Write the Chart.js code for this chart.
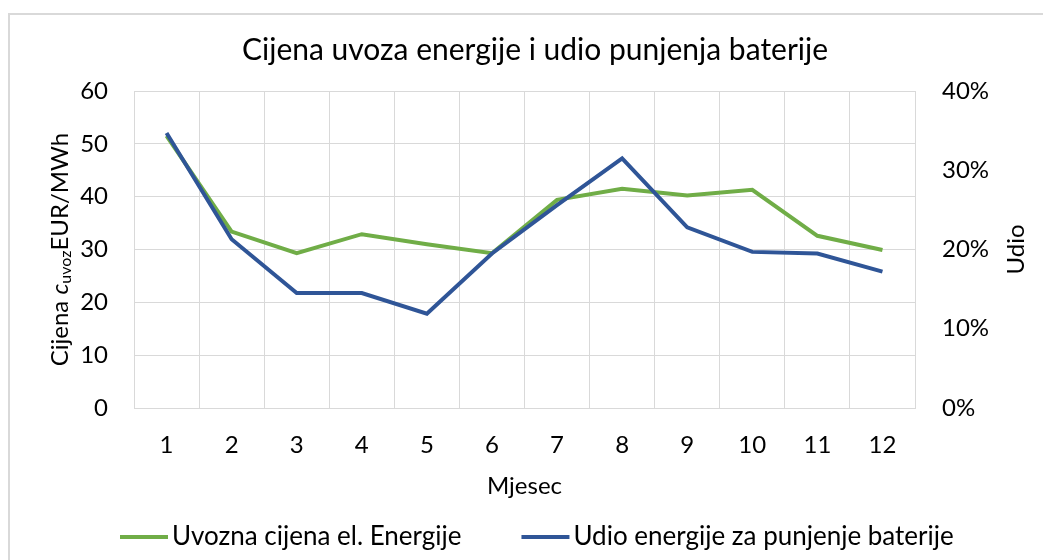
<!DOCTYPE html>
<html>
<head>
<title>Cijena uvoza energije i udio punjenja baterije</title>
<script src="https://cdn.jsdelivr.net/npm/chart.js@4.4.0/dist/chart.umd.min.js"></script>
<style>
	body { margin: 0; background: #fff; }
	#frame { position: absolute; left: 8px; top: 13px; width: 1100px; height: 600px; border-left: 2px solid #d9d9d9; border-top: 2px solid #d9d9d9; }
	#wrap { position: absolute; left: 0; top: 0; width: 1043px; height: 560px; }
</style>
</head>
<body>
<div id="frame"></div>
<div id="wrap"><canvas id="myChart" width="1043" height="560"></canvas></div>
<script>
	// podaci sa slike
	const months = ['1', '2', '3', '4', '5', '6', '7', '8', '9', '10', '11', '12']
	const cijena = [51.5, 33.4, 29.3, 32.9, 31.0, 29.3, 39.4, 41.5, 40.2, 41.3, 32.6, 29.9]   // EUR/MWh
	const udio = [34.7, 21.3, 14.5, 14.5, 11.9, 19.5, 25.6, 31.5, 22.8, 19.7, 19.5, 17.2]     // %

	const FONT = 'Lato, "Open Sans", sans-serif'
	const grid = '#d9d9d9'

	// naslov, naslovi osi i legenda (crtano rucno zbog indeksa i pozicija)
	const texts = {
		id: 'texts',
		afterDraw(chart) {
			const ctx = chart.ctx
			const a = chart.chartArea
			const cy = (a.top + a.bottom) / 2
			ctx.save()
			ctx.fillStyle = '#000'
			ctx.textBaseline = 'middle'

			// naslov
			ctx.font = '30px ' + FONT
			ctx.textAlign = 'center'
			ctx.fillText('Cijena uvoza energije i udio punjenja baterije', 535, 50)

			// lijeva os
			const parts = [
				{t: 'Cijena ', f: '24px ' + FONT, dy: 0},
				{t: 'c', f: 'italic 24px ' + FONT, dy: 0},
				{t: 'uvoz', f: '16px ' + FONT, dy: 6},
				{t: 'EUR/MWh', f: '24px ' + FONT, dy: 0}
			]
			let total = 0
			parts.forEach(p => { ctx.font = p.f; p.w = ctx.measureText(p.t).width; total += p.w })
			ctx.save()
			ctx.translate(60, cy)
			ctx.rotate(-Math.PI / 2)
			ctx.textAlign = 'left'
			let x = -total / 2
			parts.forEach(p => {
				ctx.font = p.f
				ctx.fillText(p.t, x, p.dy)
				x += p.w
			})
			ctx.restore()

			// desna os
			ctx.save()
			ctx.font = '24px ' + FONT
			ctx.textAlign = 'center'
			ctx.translate(1016, cy)
			ctx.rotate(-Math.PI / 2)
			ctx.fillText('Udio', 0, 0)
			ctx.restore()

			// legenda
			ctx.font = '26px ' + FONT
			ctx.textAlign = 'left'
			let lx = 120
			const ly = 537
			chart.data.datasets.forEach(ds => {
				ctx.strokeStyle = ds.borderColor
				ctx.lineWidth = 4
				ctx.beginPath()
				ctx.moveTo(lx, ly)
				ctx.lineTo(lx + 48, ly)
				ctx.stroke()
				ctx.fillText(ds.label, lx + 52, ly)
				lx += 52 + ctx.measureText(ds.label).width + 60
			})
			ctx.restore()
		}
	}

	var chart = new Chart(document.getElementById('myChart').getContext('2d'), {
		type: 'line',
		data: {
			labels: months,
			datasets: [{
				label: 'Uvozna cijena el. Energije',
				data: cijena,
				yAxisID: 'y',
				borderColor: '#70ad47',
				backgroundColor: '#70ad47',
				borderWidth: 4,
				pointRadius: 0,
				tension: 0,
				order: 1
			}, {
				label: 'Udio energije za punjenje baterije',
				data: udio,
				yAxisID: 'y1',
				borderColor: '#2f5597',
				backgroundColor: '#2f5597',
				borderWidth: 4,
				pointRadius: 0,
				tension: 0,
				order: 0
			}]
		},
		options: {
			responsive: false,
			animation: false,
			layout: { padding: { top: 91, bottom: 43, left: 0, right: 0 } },
			plugins: {
				title: { display: false },
				legend: { display: false },
				tooltip: { enabled: false }
			},
			scales: {
				x: {
					offset: true,
					grid: { offset: true, color: grid, drawTicks: false },
					border: { color: grid },
					ticks: { color: '#000', font: { family: FONT, size: 24 }, padding: 23 },
					title: { display: true, text: 'Mjesec', color: '#000', font: { family: FONT, size: 24 }, padding: { top: 0, bottom: 16 } },
					afterFit: s => { s.height = 109 }
				},
				y: {
					position: 'left',
					min: 0, max: 60,
					grid: { color: grid, drawTicks: false },
					border: { color: grid },
					ticks: { stepSize: 10, color: '#000', font: { family: FONT, size: 24 }, padding: 26 },
					afterFit: s => { s.width = 134 }
				},
				y1: {
					position: 'right',
					min: 0, max: 40,
					grid: { drawOnChartArea: false, drawTicks: false },
					border: { color: grid },
					ticks: { stepSize: 10, color: '#000', font: { family: FONT, size: 24 }, padding: 27, callback: v => v + '%' },
					afterFit: s => { s.width = 128 }
				}
			}
		},
		plugins: [texts]
	});
</script>
</body>
</html>
